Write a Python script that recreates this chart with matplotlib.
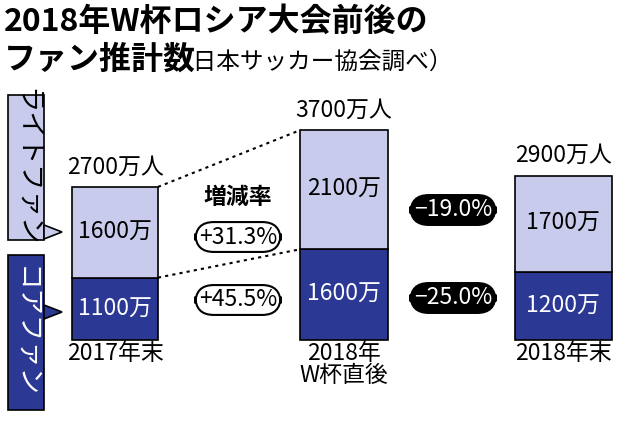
import matplotlib
matplotlib.use("Agg")
import matplotlib.pyplot as plt
from matplotlib.patches import FancyBboxPatch

plt.rcParams['font.family'] = ['Noto Sans CJK JP', 'DejaVu Sans']

categories = ["2017年末", "2018年\nW杯直後", "2018年末"]
core = [1100, 1600, 1200]
light = [1600, 2100, 1700]
totals = [2700, 3700, 2900]
rates_light = ["+31.3%", "−19.0%"]
rates_core = ["+45.5%", "−25.0%"]

LIGHT = "#c9cbec"
DARK = "#2b3894"
scale = 0.0567
base = 340

fig = plt.figure(figsize=(6.4, 4.22), dpi=100)
ax = fig.add_axes([0, 0, 1, 1])
ax.set_xlim(0, 640)
ax.set_ylim(-(422 - base) / scale, base / scale)
ax.axis("off")
ov = fig.add_axes([0, 0, 1, 1], facecolor="none")
ov.set_xlim(0, 640); ov.set_ylim(422, 0); ov.axis("off")

xs = [115, 344, 563]
ws = [86, 88, 97]
ax.bar(xs, core, width=ws, color=DARK, edgecolor="black", lw=1.2)
ax.bar(xs, light, bottom=core, width=ws, color=LIGHT, edgecolor="black", lw=1.2)

for vals in (totals, core):
    ax.plot([xs[0] + ws[0] / 2, xs[1] - ws[1] / 2], [vals[0], vals[1]], ls=(0, (1.5, 2)), color="black", lw=1.5)

fs = 16.5
for i, x in enumerate(xs):
    ax.text(x, totals[i] + 150, f"{totals[i]}万人", ha="center", va="bottom", fontsize=fs)
    ax.text(x, core[i] + light[i] / 2, f"{light[i]}万", ha="center", va="center", fontsize=fs)
    ax.text(x, core[i] / 2, f"{core[i]}万", ha="center", va="center", fontsize=fs, color="white")
    ov.text(x, 342, categories[i], ha="center", va="top", fontsize=fs, linespacing=0.95)

ov.text(238, 197, "増減率", ha="center", va="center", fontsize=fs, fontweight="bold")
for y, t in ((237, rates_light[0]), (300, rates_core[0])):
    ov.text(238, y, t, ha="center", va="center", fontsize=fs,
            bbox=dict(boxstyle="round,pad=0.15,rounding_size=0.8", fc="white", ec="black", lw=1.5))
for y, t in ((210, rates_light[1]), (298, rates_core[1])):
    ov.text(453, y, t, ha="center", va="center", fontsize=fs, color="white",
            bbox=dict(boxstyle="round,pad=0.15,rounding_size=0.8", fc="black", ec="black", lw=1.5))

ov.add_patch(FancyBboxPatch((8, 95), 36, 145, boxstyle="square,pad=0", fc=LIGHT, ec="black", lw=1.2))
ov.add_patch(FancyBboxPatch((8, 255), 36, 155, boxstyle="square,pad=0", fc=DARK, ec="black", lw=1.2))
ov.fill([44, 62, 44], [225, 232, 239], color=LIGHT, ec="black", lw=1.2)
ov.fill([44, 62, 44], [305, 312, 319], color=DARK, ec="black", lw=1.2)
ov.text(26, 167, "ライトファン", rotation=-90, ha="center", va="center", fontsize=19)
ov.text(26, 332, "コアファン", rotation=-90, ha="center", va="center", fontsize=19, color="white")

ov.text(4, 22, "2018年W杯ロシア大会前後の", ha="left", va="center", fontsize=23, fontweight="bold")
ov.text(4, 60, "ファン推計数", ha="left", va="center", fontsize=23, fontweight="bold")
ov.text(170, 62, "（日本サッカー協会調べ）", ha="left", va="center", fontsize=17)

fig.savefig("out.png", dpi=100)
